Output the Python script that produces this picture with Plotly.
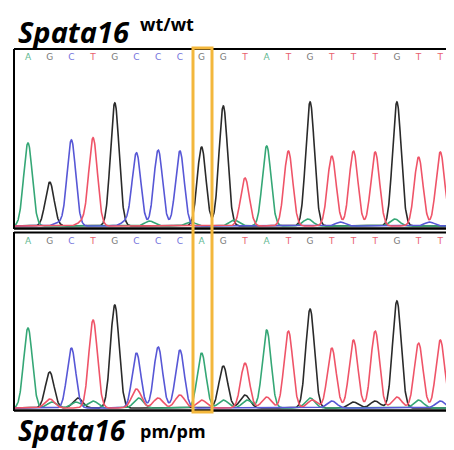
import numpy as np
import plotly.graph_objects as go

# ---- data ----
top_seq = list("AGCTGCCCGGTATGTTTGTT")
top_heights = [83, 44, 86, 88, 123, 73, 76, 75, 79, 120, 48, 80, 75, 124, 70, 75, 74, 124, 69, 74]
top_minor_pos = [1.4, 2.5, 4.5, 5.6, 7.5, 9.5, 12.9, 14.4, 16.9, 18.5]
top_minor_base = ["C", "T", "C", "A", "A", "A", "A", "C", "A", "C"]
top_minor_height = [3, 4, 4, 5, 4, 6, 7, 4, 7, 4]

bottom_seq = list("AGCTGCCCAGTATGTTTGTT")
bottom_heights = [80, 36, 60, 88, 103, 55, 61, 58, 55, 42, 45, 78, 77, 99, 60, 68, 77, 107, 65, 68]
bottom_minor_pos = [1.0, 1.1, 2.2, 2.3, 3.0, 5.0, 5.1, 6.0, 7.0, 8.0, 9.0, 10.0, 10.1, 11.0, 13.0, 13.1, 14.0, 15.0, 16.0, 17.0, 18.0, 19.0]
bottom_minor_base = ["T", "A", "A", "G", "A", "T", "A", "T", "T", "T", "A", "G", "A", "T", "A", "T", "C", "G", "G", "T", "A", "C"]
bottom_minor_height = [9, 6, 6, 10, 7, 19, 10, 10, 13, 8, 8, 13, 8, 11, 10, 8, 7, 6, 7, 11, 8, 7]

channel_color = {"A": "#35a776", "C": "#5757d6", "G": "#2a2a2a", "T": "#ef5468"}
letter_color = {"A": "#5fb892", "C": "#7474dc", "G": "#7a7a7a", "T": "#e8616f"}

# page body has an 8px margin; the figure is sized to fill the rest of the window
OFF = 8
W, H = 454 - OFF, 450 - OFF
PX0, STEP = 28.0, 21.7
x_range = [(OFF - PX0) / STEP, (454 - PX0) / STEP]
xs = np.arange(-0.64, x_range[1], 0.01)


def channel_signal(seq, heights, mpos, mbase, mheight, ch, sigma=0.2):
    y = np.zeros_like(xs)
    for i, (b, h) in enumerate(zip(seq, heights)):
        if b == ch:
            y += h * np.exp(-0.5 * ((xs - i) / sigma) ** 2)
    for p, b, h in zip(mpos, mbase, mheight):
        if b == ch:
            y += h * np.exp(-0.5 * ((xs - p) / 0.22) ** 2)
    return y


fig = go.Figure()
panels = [
    (top_seq, top_heights, top_minor_pos, top_minor_base, top_minor_height, "y", 168),
    (bottom_seq, bottom_heights, bottom_minor_pos, bottom_minor_base, bottom_minor_height, "y2", 166),
]
for seq, hts, mp, mb, mh, yax, ylet in panels:
    for ch in ["G", "A", "C", "T"]:
        fig.add_trace(go.Scatter(
            x=xs, y=channel_signal(seq, hts, mp, mb, mh, ch), mode="lines",
            line=dict(color=channel_color[ch], width=1.6), yaxis=yax, xaxis="x",
            hoverinfo="skip", showlegend=False))
    fig.add_trace(go.Scatter(
        x=list(range(len(seq))), y=[ylet] * len(seq), mode="text", text=seq,
        textfont=dict(family="DejaVu Sans", size=9, color=[letter_color[b] for b in seq]),
        yaxis=yax, xaxis="x", hoverinfo="skip", showlegend=False))


def px(xp):
    return (xp - OFF) / W


def py(yp):
    return 1 - (yp - OFF) / H


shapes = [
    dict(type="line", x0=px(14), x1=1, y0=py(49), y1=py(49), line=dict(color="black", width=2)),
    dict(type="line", x0=px(14), x1=px(14), y0=py(49), y1=py(229), line=dict(color="black", width=2)),
    dict(type="line", x0=px(14), x1=1, y0=py(228.5), y1=py(228.5), line=dict(color="black", width=2.5)),
    dict(type="line", x0=px(14), x1=1, y0=py(232.5), y1=py(232.5), line=dict(color="black", width=2)),
    dict(type="line", x0=px(14), x1=px(14), y0=py(232), y1=py(411), line=dict(color="black", width=2)),
    dict(type="line", x0=px(14), x1=1, y0=py(410.5), y1=py(410.5), line=dict(color="black", width=2.5)),
    dict(type="rect", x0=px(193), x1=px(212), y0=py(412), y1=py(48),
         line=dict(color="#F3B73C", width=3)),
]
for s in shapes:
    s.update(xref="paper", yref="paper")

annotations = [
    dict(text="<b><i>Spata16</i></b>", x=px(17), y=py(31), xanchor="left", yanchor="middle",
         font=dict(family="Open Sans", size=29, color="black")),
    dict(text="<b>wt/wt</b>", x=px(139), y=py(24), xanchor="left", yanchor="middle",
         font=dict(family="Open Sans", size=18, color="black")),
    dict(text="<b><i>Spata16</i></b>", x=px(17), y=py(430), xanchor="left", yanchor="middle",
         font=dict(family="Open Sans", size=28, color="black")),
    dict(text="<b>pm/pm</b>", x=px(139), y=py(431), xanchor="left", yanchor="middle",
         font=dict(family="Open Sans", size=18, color="black")),
]
for a in annotations:
    a.update(xref="paper", yref="paper", showarrow=False, borderpad=0)

hidden = dict(showgrid=False, zeroline=False, showticklabels=False, showline=False, ticks="")
fig.update_layout(
    width=W, height=H, margin=dict(l=0, r=0, t=0, b=0),
    paper_bgcolor="white", plot_bgcolor="white",
    xaxis=dict(range=x_range, domain=[0, 1], **hidden),
    yaxis=dict(range=[-2, 177], domain=[py(228), py(49)], **hidden),
    yaxis2=dict(range=[-2, 175], domain=[py(410), py(233)], **hidden),
    shapes=shapes, annotations=annotations,
)
fig.write_html("out.html")
